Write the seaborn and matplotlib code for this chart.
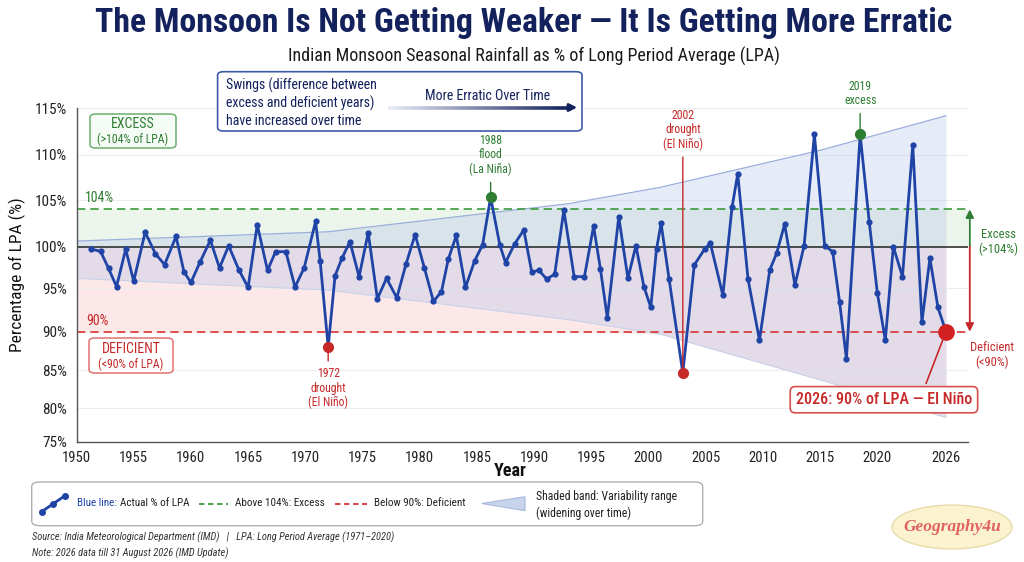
import numpy as np
import matplotlib.pyplot as plt
import seaborn as sns
from matplotlib.patches import FancyBboxPatch, FancyArrowPatch, Ellipse, Polygon
from matplotlib.lines import Line2D
from matplotlib.collections import LineCollection
from matplotlib.colors import LinearSegmentedColormap

sns.set_theme(style='white')
plt.rcParams['font.family'] = ['Liberation Sans Narrow', 'Roboto Condensed', 'Roboto', 'DejaVu Sans']

# ---- data ------------------------------------------------------------------
years = [
    1951.3, 1952.1, 1952.8, 1953.5, 1954.3, 1955.0, 1956.0, 1956.9, 1957.7, 1958.7,
    1959.4, 1960.0, 1960.8, 1961.7, 1962.5, 1963.3, 1964.2, 1965.0, 1965.8, 1966.7,
    1967.4, 1968.3, 1969.1, 1969.9, 1970.9, 1971.3, 1972.0,
    1972.6, 1973.2, 1973.9, 1974.7, 1975.5, 1976.3, 1977.1, 1978.0, 1978.8, 1979.6,
    1980.4, 1981.2, 1981.9, 1982.5, 1983.2, 1984.0, 1984.8, 1985.5, 1986.2, 1987.0,
    1987.5, 1988.3, 1989.1, 1989.8, 1990.4, 1991.1, 1991.8, 1992.6, 1993.5, 1994.4,
    1995.2, 1995.8, 1996.4, 1997.4, 1998.2, 1998.9, 1999.6, 2000.2, 2000.7, 2001.1,
    2001.8, 2003.0,
    2004.0, 2004.9, 2005.4, 2006.5, 2007.3, 2007.8, 2008.7, 2009.7, 2010.6, 2011.2,
    2011.9, 2012.8, 2013.6, 2014.5, 2015.4, 2016.1, 2016.7, 2017.3, 2018.5, 2019.3,
    2020.0, 2020.7, 2021.4, 2022.2, 2023.1, 2023.9, 2024.6, 2025.3, 2026.0,
]
lpa = [
    99.7, 99.45, 97.4, 95.2, 99.7, 95.85, 101.55, 99.15, 97.85, 101.1,
    96.95, 95.7, 98.15, 100.7, 97.45, 100.1, 97.2, 95.1, 102.35, 97.15,
    99.4, 99.4, 95.15, 97.45, 102.7, 98.25, 88.0,
    96.5, 98.6, 100.55, 96.4, 101.5, 93.8, 96.2, 93.9, 97.9, 101.3,
    97.5, 93.5, 94.6, 98.5, 101.2, 95.1, 98.3, 100.2, 105.3, 100.2,
    98.1, 100.3, 101.8, 96.9, 97.2, 96.1, 96.7, 103.9, 96.4, 96.4,
    102.2, 97.3, 91.6, 103.2, 96.2, 100.1, 95.2, 92.8, 99.7, 102.5,
    96.1, 84.6,
    97.8, 99.7, 100.4, 94.2, 104.2, 107.9, 96.1, 88.9, 97.2, 99.2,
    102.4, 95.4, 100.1, 112.2, 100.1, 99.4, 93.45, 86.5, 112.2, 102.6,
    94.5, 88.9, 100.0, 96.4, 111.1, 91.1, 98.6, 92.8, 90.0,
]

band_years = [1950, 1972, 1993, 2001, 2015, 2026]
band_upper = [100.6, 101.6, 104.6, 106.4, 110.5, 114.2]
band_lower = [96.2, 94.8, 91.4, 89.7, 83.7, 78.6]

excess_level = 104
deficient_level = 90

event_years = [1972.0, 1986.2, 2003.0, 2018.5]
event_labels = ['1972\ndrought\n(El Niño)', '1988\nflood\n(La Niña)',
                '2002\ndrought\n(El Niño)', '2019\nexcess']
event_kind = ['drought', 'flood', 'drought', 'excess']

y_ticks = [75, 80, 85, 90, 95, 100, 105, 110, 115]
x_ticks = [1950, 1955, 1960, 1965, 1970, 1975, 1980, 1985, 1990, 1995,
           2000, 2005, 2010, 2015, 2020, 2026]

# ---- colours ---------------------------------------------------------------
BLUE = '#1f44a6'
NAVY = '#13215c'
GREEN = '#2e7d32'
RED = '#c62828'

W, H = 1024, 562
def P(px, py):
    return (px / W, 1 - py / H)

fig = plt.figure(figsize=(W / 100, H / 100), dpi=100)
ax = fig.add_axes([76.5 / W, 1 - 441.7 / H, (968 - 76.5) / W, (441.7 - 108.3) / H])

years = np.array(years)
lpa = np.array(lpa)

# background zones
ax.axhspan(100, excess_level, color='#e3f2e3', alpha=0.7, lw=0, zorder=0)
ax.fill_between(band_years, np.minimum(band_lower, deficient_level), 100,
                color='#fbe1e1', alpha=0.75, lw=0, zorder=0.5)
ax.fill_between(band_years, band_lower, band_upper, color='#b9c8ea', alpha=0.36,
                lw=0, zorder=1)
ax.plot(band_years, band_upper, color='#9aaedb', lw=0.9, zorder=1.2)
ax.plot(band_years, band_lower, color='#c9d2ea', lw=0.8, zorder=1.2)

ax.axhline(100, color='#222222', lw=1.1, zorder=2)
ax.axhline(excess_level, color='#3c9a3c', lw=1.2, ls=(0, (5, 3)), zorder=2)
ax.axhline(deficient_level, color='#d93434', lw=1.2, ls=(0, (5, 3)), zorder=2)

sns.lineplot(x=years, y=lpa, ax=ax, color=BLUE, lw=2, marker='o', markersize=4.5,
             markeredgewidth=0, sort=False, estimator=None, zorder=5)

# event markers and labels
for ey, lab, kind in zip(event_years, event_labels, event_kind):
    i = int(np.argmin(np.abs(years - ey)))
    col = RED if kind == 'drought' else GREEN
    ax.plot(years[i], lpa[i], 'o', color=col, ms=7, zorder=6)
    if kind == 'drought' and lpa[i] > 86:
        off, va = -20, 'top'
    elif kind == 'drought':
        off, va = 222, 'bottom'
    elif kind == 'flood':
        off, va = 21, 'bottom'
    else:
        off, va = 27, 'bottom'
    ax.annotate(lab, xy=(years[i], lpa[i]), xytext=(0, off), textcoords='offset pixels',
                ha='center', va=va, fontsize=8.5, color=col, linespacing=1.15,
                arrowprops=dict(arrowstyle='-', color=col, lw=1, shrinkA=2, shrinkB=3),
                zorder=6)

# 2026 highlight
ax.plot(years[-1], lpa[-1], 'o', color='#d32020', ms=11, zorder=7)
ax.annotate('2026: 90% of LPA — El Niño', xy=(years[-1], lpa[-1]), xytext=(-62, -68),
            textcoords='offset pixels', ha='center', va='center', fontsize=11.5,
            color=RED, fontweight='medium',
            bbox=dict(boxstyle='round,pad=0.35,rounding_size=0.3', fc='white', ec='#d65050', lw=1.2),
            arrowprops=dict(arrowstyle='-', color=RED, lw=1.2, relpos=(0.72, 1.0), shrinkB=4),
            zorder=7)

# right side excess / deficient arrows
ax.annotate('', xy=(1.002, excess_level), xytext=(1.002, 100),
            xycoords=('axes fraction', 'data'), textcoords=('axes fraction', 'data'),
            arrowprops=dict(arrowstyle='-|>', color=GREEN, lw=1.3, mutation_scale=12, shrinkA=0, shrinkB=0),
            annotation_clip=False)
ax.annotate('', xy=(1.002, deficient_level), xytext=(1.002, 100),
            xycoords=('axes fraction', 'data'), textcoords=('axes fraction', 'data'),
            arrowprops=dict(arrowstyle='-|>', color=RED, lw=1.3, mutation_scale=12, shrinkA=0, shrinkB=0),
            annotation_clip=False)

# axis scale follows the reference's uneven tick spacing
tick_px = np.array([441.7, 408, 370, 331.7, 288.3, 246.7, 200, 155, 108.3])
tick_h = tick_px[0] - tick_px
ax.set_yscale('function', functions=(lambda v: np.interp(v, y_ticks, tick_h),
                                     lambda h: np.interp(h, tick_h, y_ticks)))
ax.set_ylim(75, 115)
ax.set_xlim(1950, 1950 + (968 - 76.5) / 11.44)
ax.set_yticks(y_ticks)
ax.set_yticklabels([f'{v}%' for v in y_ticks], fontsize=11, color='#222222')
ax.set_xticks(x_ticks)
ax.set_xticklabels([str(v) for v in x_ticks], fontsize=10.5, color='#222222')
ax.grid(axis='y', color='#ededed', lw=0.8, zorder=0)
ax.set_axisbelow(True)
for s in ['top', 'right']:
    ax.spines[s].set_visible(False)
for s in ['left', 'bottom']:
    ax.spines[s].set_color('#555555')
    ax.spines[s].set_linewidth(1)
ax.tick_params(axis='both', direction='out', length=4, width=1, color='#555555', pad=3)
ax.set_facecolor('white')
ax.set_xlabel('Year', fontsize=13, fontweight='bold', color='#111111', va='center')
ax.xaxis.set_label_coords((510 - 76.5) / 891.5, -(471.5 - 441.7) / 333.4)
ax.set_ylabel('Percentage of LPA (%)', fontsize=12.5, color='#111111', labelpad=6)

# ---- titles ----------------------------------------------------------------
fig.text(*P(524, 23), 'The Monsoon Is Not Getting Weaker — It Is Getting More Erratic',
         ha='center', va='center', fontsize=24.3, fontweight='bold', color=NAVY)
fig.text(*P(534, 56), 'Indian Monsoon Seasonal Rainfall as % of Long Period Average (LPA)',
         ha='center', va='center', fontsize=13, color='#1a1a1a')

def fig_box(x0, y0, x1, y1, ec, fc='white', lw=1.1, r=0.006):
    (fx0, fy1), (fx1, fy0) = P(x0, y0), P(x1, y1)
    fig.add_artist(FancyBboxPatch((fx0, fy0), fx1 - fx0, fy1 - fy0,
                                  boxstyle=f'round,pad=0,rounding_size={r}',
                                  transform=fig.transFigure, ec=ec, fc=fc, lw=lw, zorder=3))

# swings box with gradient arrow
fig_box(217.6, 71.7, 582, 131, '#3d5aa8', lw=1.2)
fig.text(*P(226, 102.5), 'Swings (difference between\nexcess and deficient years)\nhave increased over time',
         ha='left', va='center', fontsize=10, color=NAVY, linespacing=1.25, zorder=4)
fig.text(*P(488, 96), 'More Erratic Over Time', ha='center', va='center', fontsize=10,
         color=NAVY, zorder=4)
cmap = LinearSegmentedColormap.from_list('fade', ['#e6ebf6', NAVY])
xs = np.linspace(388, 570, 41)
segs = [[P(xs[k], 107.5), P(xs[k + 1], 107.5)] for k in range(40)]
fig.add_artist(LineCollection(segs, colors=[cmap(k / 39) for k in range(40)], linewidths=2.6,
                              transform=fig.transFigure, zorder=4))
fig.add_artist(FancyArrowPatch(P(566, 107.5), P(580, 107.5), arrowstyle='-|>', mutation_scale=11,
                               color=NAVY, lw=2, transform=fig.transFigure, zorder=4))

# zone boxes
fig_box(90, 114, 176, 148, '#6fae6f', fc='#f5fbf5')
fig.text(*P(133, 124.5), 'EXCESS', ha='center', va='center', fontsize=10, color=GREEN, zorder=4)
fig.text(*P(133, 139), '(>104% of LPA)', ha='center', va='center', fontsize=8.5, color=GREEN, zorder=4)
fig_box(89, 338, 173, 373, '#e07070')
fig.text(*P(131, 349), 'DEFICIENT', ha='center', va='center', fontsize=10, color=RED, zorder=4)
fig.text(*P(131, 364.5), '(<90% of LPA)', ha='center', va='center', fontsize=8.5, color=RED, zorder=4)
fig.text(*P(100, 198.5), '104%', ha='center', va='center', fontsize=10, color=GREEN)
fig.text(*P(97, 321), '90%', ha='center', va='center', fontsize=10, color=RED)

fig.text(*P(998, 242), 'Excess\n(>104%)', ha='center', va='center', fontsize=9, color=GREEN,
         linespacing=1.2)
fig.text(*P(992, 355), 'Deficient\n(<90%)', ha='center', va='center', fontsize=9, color=RED,
         linespacing=1.2)

# ---- custom legend ---------------------------------------------------------
fig_box(31.7, 482, 702.7, 525.7, '#b0b0b0', lw=1, r=0.008)
lx, ly = zip(P(41.7, 511.7), P(53.3, 503.7), P(65, 495.7))
fig.add_artist(Line2D(lx, ly, transform=fig.transFigure, color=BLUE, lw=2, marker='o', ms=4, zorder=4))
t_blue = fig.text(*P(76.7, 503.5), 'Blue line:', ha='left', va='center', fontsize=8, color=BLUE, zorder=4)
renderer = fig.canvas.get_renderer()
x_end = t_blue.get_window_extent(renderer).x1
fig.text((x_end + 3) / W, 1 - 503.5 / H, 'Actual % of LPA', ha='left', va='center', fontsize=8,
         color='#222222', zorder=4)
gx, gy = zip(P(199, 503.5), P(228, 503.5))
fig.add_artist(Line2D(gx, gy, transform=fig.transFigure, color='#3c9a3c', lw=1.3, ls=(0, (3, 2)), zorder=4))
fig.text(*P(235, 503.5), 'Above 104%: Excess', ha='left', va='center', fontsize=8, color='#222222', zorder=4)
rx, ry = zip(P(335, 503.5), P(367, 503.5))
fig.add_artist(Line2D(rx, ry, transform=fig.transFigure, color='#d93434', lw=1.3, ls=(0, (3, 2)), zorder=4))
fig.text(*P(374, 503.5), 'Below 90%: Deficient', ha='left', va='center', fontsize=8, color='#222222', zorder=4)
fig.add_artist(Polygon([P(481.7, 503.5), P(525, 496.7), P(525, 510.7)], closed=True,
                       transform=fig.transFigure, fc='#c8d3ec', ec='#a8b8de', lw=0.8, zorder=4))
fig.text(*P(536, 505), 'Shaded band: Variability range\n(widening over time)', ha='left', va='center',
         fontsize=8.5, color='#222222', linespacing=1.35, zorder=4)

fig.text(*P(31.7, 537), 'Source: India Meteorological Department (IMD)   |   LPA: Long Period Average (1971–2020)',
         ha='left', va='center', fontsize=7.5, style='italic', color='#333333')
fig.text(*P(31.7, 553.3), 'Note: 2026 data till 31 August 2026 (IMD Update)',
         ha='left', va='center', fontsize=7.5, style='italic', color='#333333')

# logo
fig.add_artist(Ellipse(P(952, 527), 120 / W, 44 / H, transform=fig.transFigure,
                       fc='#fbf3cf', ec='#e8dcaa', lw=1))
fig.text(*P(952, 527), 'Geography4u', ha='center', va='center', fontsize=12.5,
         family=['Liberation Serif', 'DejaVu Serif'], style='italic', fontweight='bold', color='#e06262')

fig.savefig('out.png', dpi=100)
